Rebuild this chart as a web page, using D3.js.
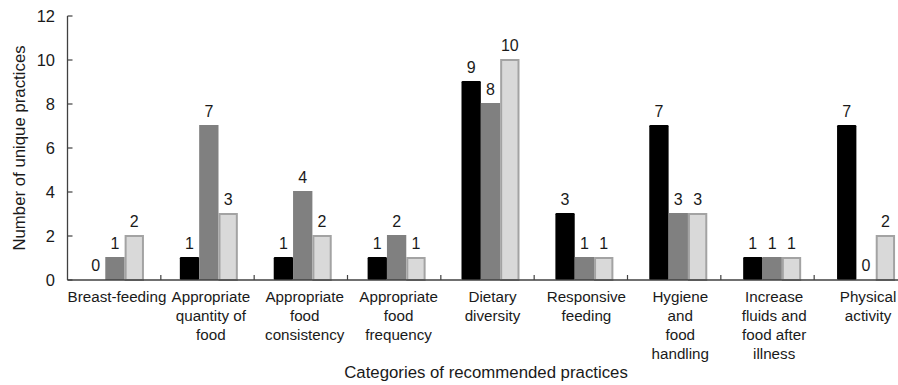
<!DOCTYPE html>
<html>
<head>
<meta charset="utf-8">
<script src="https://cdn.jsdelivr.net/npm/d3@7"></script>
<style>
  html, body { margin: 0; padding: 0; background: #fff; }
  svg { display: block; font-family: Arial, "Liberation Sans", sans-serif; }
</style>
</head>
<body>
<svg id="chart" width="898" height="385"></svg>
<script>
// Categories of recommended practices (label lines)
const categories = [
  ["Breast-feeding"],
  ["Appropriate", "quantity of", "food"],
  ["Appropriate", "food", "consistency"],
  ["Appropriate", "food", "frequency"],
  ["Dietary", "diversity"],
  ["Responsive", "feeding"],
  ["Hygiene", "and", "food", "handling"],
  ["Increase", "fluids and", "food after", "illness"],
  ["Physical", "activity"]
];
const seriesA = [0, 1, 1, 1, 9, 3, 7, 1, 7];
const seriesB = [1, 7, 4, 2, 8, 1, 3, 1, 0];
const seriesC = [2, 3, 2, 1, 10, 1, 3, 1, 2];
const yTicks = [0, 2, 4, 6, 8, 10, 12];

const seriesNames = ["A", "B", "C"];
const seriesValues = [seriesA, seriesB, seriesC];
const fills = ["#000000", "#808080", "#d9d9d9"];
const strokes = ["#000000", "#808080", "#a3a3a3"];

const svg = d3.select("#chart");
const keys = categories.map((c, i) => "c" + i);

const axisLeft = 67.5, axisBottom = 280;

const y = d3.scaleLinear().domain([0, 12]).range([axisBottom, 16]);
// band scale for the bar groups
const x = d3.scaleBand().domain(keys).range([68, 913]).paddingInner(0).paddingOuter(0);
// band scale for the category separators on the axis
const xAxisBand = d3.scaleBand().domain(keys).range([axisLeft, 907.5]);
const xInner = d3.scaleBand().domain(seriesNames).range([0, 58]);

const gx0 = (x.bandwidth() - 58) / 2;

// Bars
const groups = svg.append("g").selectAll("g")
  .data(keys)
  .join("g")
  .attr("transform", k => `translate(${x(k) + gx0},0)`);

groups.each(function (k, i) {
  const g = d3.select(this);
  seriesNames.forEach((s, j) => {
    const v = seriesValues[j][i];
    const bx = xInner(s);
    const bw = xInner.bandwidth();
    if (v > 0) {
      if (j === 2) {
        g.append("rect")
          .attr("x", bx + 1)
          .attr("y", y(v))
          .attr("width", bw - 2)
          .attr("height", y(0) - y(v))
          .attr("fill", fills[j])
          .attr("stroke", strokes[j])
          .attr("stroke-width", 2);
      } else {
        g.append("rect")
          .attr("x", bx)
          .attr("y", y(v) - 1)
          .attr("width", bw)
          .attr("height", y(0) - y(v) + 1)
          .attr("fill", fills[j])
          .attr("rx", j === 0 ? 1.2 : 0);
      }
    }
    g.append("text")
      .attr("x", bx + bw / 2)
      .attr("y", y(v) - 9)
      .attr("text-anchor", "middle")
      .attr("font-size", 16)
      .attr("fill", "#1a1a1a")
      .text(v);
  });
});

// Y axis
const yAxis = svg.append("g");
yAxis.append("line")
  .attr("x1", axisLeft).attr("x2", axisLeft)
  .attr("y1", y(12)).attr("y2", axisBottom)
  .attr("stroke", "#404040").attr("stroke-width", 1.3);
yAxis.selectAll("line.tick")
  .data(yTicks)
  .join("line")
  .attr("class", "tick")
  .attr("x1", axisLeft).attr("x2", axisLeft + 5)
  .attr("y1", d => y(d)).attr("y2", d => y(d))
  .attr("stroke", "#404040").attr("stroke-width", 1.2);
yAxis.selectAll("text")
  .data(yTicks)
  .join("text")
  .attr("x", 55)
  .attr("y", d => y(d))
  .attr("dy", "0.36em")
  .attr("text-anchor", "end")
  .attr("font-size", 16.5)
  .attr("fill", "#1a1a1a")
  .text(d => d);

// X axis
const xAxisG = svg.append("g");
xAxisG.append("line")
  .attr("x1", axisLeft).attr("x2", 898)
  .attr("y1", axisBottom).attr("y2", axisBottom)
  .attr("stroke", "#404040").attr("stroke-width", 1.3);
xAxisG.selectAll("line.tick")
  .data(keys.slice(1))
  .join("line")
  .attr("class", "tick")
  .attr("x1", k => xAxisBand(k)).attr("x2", k => xAxisBand(k))
  .attr("y1", axisBottom).attr("y2", axisBottom - 5)
  .attr("stroke", "#404040").attr("stroke-width", 1.2);

// Category labels
const labels = xAxisG.selectAll("text.cat")
  .data(keys)
  .join("text")
  .attr("class", "cat")
  .attr("text-anchor", "middle")
  .attr("font-size", 15.2)
  .attr("fill", "#1a1a1a");
labels.each(function (k, i) {
  const t = d3.select(this);
  categories[i].forEach((line, li) => {
    t.append("tspan")
      .attr("x", x(k) + x.bandwidth() / 2 + 2)
      .attr("y", 302 + li * 19)
      .text(line);
  });
});

// Axis titles
svg.append("text")
  .attr("x", 486)
  .attr("y", 378)
  .attr("text-anchor", "middle")
  .attr("font-size", 16.8)
  .attr("fill", "#1a1a1a")
  .text("Categories of recommended practices");

svg.append("text")
  .attr("transform", `translate(25,${(y(12) + axisBottom) / 2}) rotate(-90)`)
  .attr("text-anchor", "middle")
  .attr("font-size", 16.8)
  .attr("fill", "#1a1a1a")
  .text("Number of unique practices");
</script>
</body>
</html>
